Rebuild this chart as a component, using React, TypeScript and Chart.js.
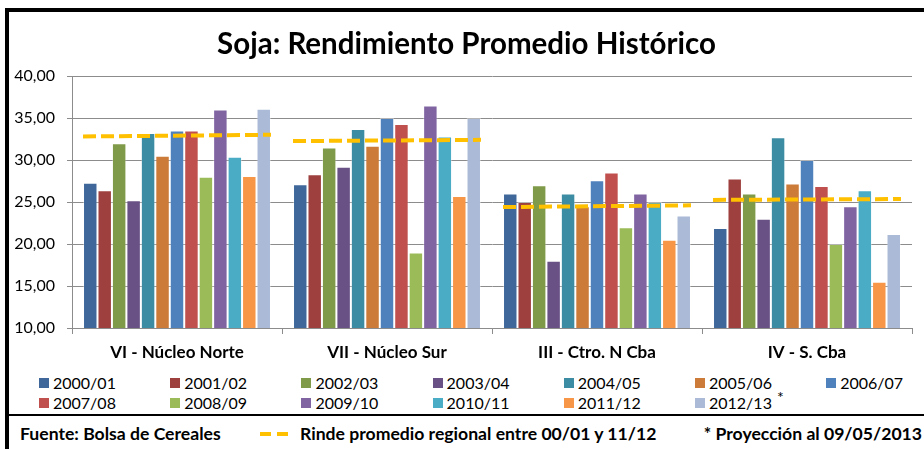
import React, { useEffect, useRef } from "react";
import { Chart, registerables } from "chart.js";
Chart.register(...registerables);

// ---- data ----
const regions = ["VI - Núcleo Norte", "VII - Núcleo Sur", "III - Ctro. N Cba", "IV - S. Cba"];
const campaigns = [
  "2000/01", "2001/02", "2002/03", "2003/04", "2004/05", "2005/06", "2006/07",
  "2007/08", "2008/09", "2009/10", "2010/11", "2011/12", "2012/13",
];
const nucleoNorte = [27.3, 26.4, 32.0, 25.2, 33.2, 30.5, 33.5, 33.5, 28.0, 36.0, 30.4, 28.1, 36.1];
const nucleoSur = [27.1, 28.3, 31.5, 29.2, 33.7, 31.7, 35.0, 34.3, 19.0, 36.5, 32.8, 25.7, 35.0];
const ctroNCba = [26.0, 25.0, 27.0, 18.0, 26.0, 24.5, 27.6, 28.5, 22.0, 26.0, 25.0, 20.5, 23.4];
const sCba = [21.9, 27.8, 26.0, 23.0, 32.7, 27.2, 30.0, 26.9, 20.0, 24.5, 26.4, 15.5, 21.2];
const regionValues = [nucleoNorte, nucleoSur, ctroNCba, sCba];
// regional average line (value at start / end of each region's segment)
const avgStart = [32.8, 32.25, 24.4, 25.25];
const avgEnd = [33.0, 32.4, 24.6, 25.35];
const yTicks = [10, 15, 20, 25, 30, 35, 40];

const colors = [
  "#3F679A", "#9E413E", "#7F9A48", "#695185", "#3C8DA3", "#CC7B38", "#4F81BD",
  "#C0504D", "#9BBB59", "#8064A2", "#4BACC6", "#F79646", "#AABAD7",
];
const lineColor = "#FFC000";
const FONT = 'Lato, "Open Sans", sans-serif';
const GROUP = 0.895;

const avgLinePlugin = {
  id: "avgLine",
  afterDatasetsDraw(chart: any) {
    const x = chart.scales.x;
    const y = chart.scales.y;
    const ctx = chart.ctx;
    ctx.save();
    ctx.strokeStyle = lineColor;
    ctx.lineWidth = 4;
    ctx.lineCap = "butt";
    ctx.setLineDash([13, 5]);
    regions.forEach((_, i) => {
      ctx.beginPath();
      ctx.moveTo(x.getPixelForValue(i - GROUP / 2), y.getPixelForValue(avgStart[i]));
      ctx.lineTo(x.getPixelForValue(i + GROUP / 2), y.getPixelForValue(avgEnd[i]));
      ctx.stroke();
    });
    ctx.restore();
  },
};

export default function App() {
  const ref = useRef<HTMLCanvasElement | null>(null);

  useEffect(() => {
    if (!ref.current) return;
    const barSets = campaigns.map((c, si) => ({
      label: c,
      data: regionValues.map((r) => r[si]),
      backgroundColor: colors[si],
      borderColor: "rgba(255,255,255,0.35)",
      borderWidth: 1,
      categoryPercentage: GROUP,
      barPercentage: 1,
    }));

    const chart = new Chart(ref.current, {
      type: "bar",
      data: { labels: regions, datasets: barSets },
      plugins: [avgLinePlugin],
      options: {
        animation: false,
        responsive: false,
        devicePixelRatio: 1,
        layout: { padding: { left: 0, right: 12, top: 76, bottom: 0 } },
        plugins: { legend: { display: false }, tooltip: { enabled: false }, title: { display: false } },
        scales: {
          x: {
            type: "category",
            offset: true,
            grid: {
              display: true,
              drawOnChartArea: false,
              drawTicks: true,
              tickLength: 6,
              color: "#8C8C8C",
              offset: true,
            },
            border: { display: true, color: "#8C8C8C", width: 1 },
            ticks: {
              color: "#000",
              font: { family: FONT, size: 17, weight: "bold" },
              padding: 8,
            },
            afterFit: (s: any) => { s.height = 42; },
          },
          y: {
            type: "linear",
            min: yTicks[0],
            max: yTicks[yTicks.length - 1],
            afterBuildTicks: (s: any) => { s.ticks = yTicks.map((v) => ({ value: v })); },
            grid: { color: "#8C8C8C", lineWidth: 1, tickLength: 5, drawTicks: true },
            border: { display: true, color: "#8C8C8C", width: 1 },
            ticks: {
              color: "#000",
              font: { family: FONT, size: 16 },
              padding: 12,
              callback: (v: any) => Number(v).toFixed(2).replace(".", ","),
            },
            afterFit: (s: any) => { s.width = 72; },
          },
        },
      } as any,
    });
    return () => chart.destroy();
  }, []);

  const legendRows = [campaigns.slice(0, 7), campaigns.slice(7)];

  return (
    <div
      style={{
        position: "fixed",
        left: 0,
        top: 0,
        width: 924,
        height: 449,
        background: "#fff",
        overflow: "hidden",
        fontFamily: FONT,
        color: "#000",
      }}
    >
      {/* frame */}
      <div style={{ position: "absolute", left: 5, top: 8, width: 930, height: 4, background: "#000" }} />
      <div style={{ position: "absolute", left: 5, top: 8, width: 4, height: 450, background: "#000" }} />
      <div style={{ position: "absolute", left: 5, top: 414, width: 930, height: 2, background: "#000" }} />

      <canvas ref={ref} width={924} height={370} style={{ position: "absolute", left: 0, top: 0 }} />

      <div
        style={{
          position: "absolute",
          left: 9,
          right: 0,
          top: 25,
          textAlign: "center",
          fontWeight: "bold",
          fontSize: 29.5,
          lineHeight: "36px",
        }}
      >
        Soja: Rendimiento Promedio Histórico
      </div>

      {legendRows.map((row, ri) =>
        row.map((c, ci) => {
          const si = ri * 7 + ci;
          return (
            <div
              key={c}
              style={{
                position: "absolute",
                left: 39 + ci * 131.2,
                top: 373 + ri * 19.5,
                height: 20,
                display: "flex",
                alignItems: "center",
                fontSize: 16,
                lineHeight: "20px",
                whiteSpace: "nowrap",
              }}
            >
              <span style={{ display: "inline-block", width: 10, height: 10, background: colors[si], marginRight: 4 }} />
              <span>{c}</span>
              {c === "2012/13" ? (
                <span style={{ marginLeft: 5, position: "relative", top: -6 }}>*</span>
              ) : null}
            </div>
          );
        })
      )}

      <div
        style={{
          position: "absolute",
          left: 0,
          top: 422,
          width: 924,
          height: 24,
          fontWeight: "bold",
          fontSize: 17.6,
          lineHeight: "24px",
          whiteSpace: "nowrap",
        }}
      >
        <span style={{ position: "absolute", left: 20 }}>Fuente: Bolsa de Cereales</span>
        <span style={{ position: "absolute", left: 260, top: 10, width: 11, height: 4, background: lineColor }} />
        <span style={{ position: "absolute", left: 277, top: 10, width: 11, height: 4, background: lineColor }} />
        <span style={{ position: "absolute", left: 300 }}>Rinde promedio regional entre 00/01 y 11/12</span>
        <span style={{ position: "absolute", right: 2 }}>* Proyección al 09/05/2013</span>
      </div>
    </div>
  );
}
